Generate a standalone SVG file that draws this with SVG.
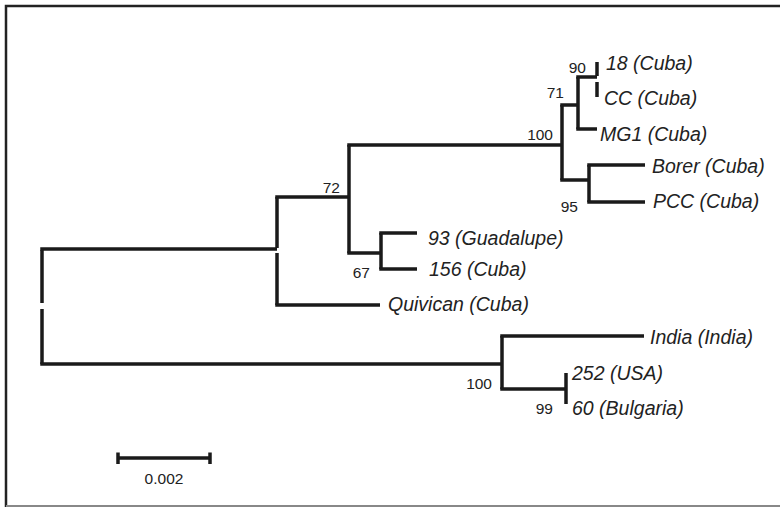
<svg xmlns="http://www.w3.org/2000/svg" width="780" height="507" viewBox="0 0 780 507">
<style>
.frame{fill:#fff;stroke:#222;stroke-width:2.5}
.bot{stroke:#888;stroke-width:2}
.br{fill:none;stroke:#1a1a1a;stroke-width:3.5;stroke-linecap:butt}
.leaf{font-family:"Liberation Sans",Arial,sans-serif;font-style:italic;font-size:19.5px;fill:#222}
.bs{font-family:"Liberation Sans",Arial,sans-serif;font-size:15.5px;fill:#222;text-anchor:end}
.sc{font-family:"Liberation Sans",Arial,sans-serif;font-size:15.5px;fill:#222;text-anchor:middle}
</style>
<rect class="frame" x="6" y="6" width="790" height="510"/>
<line class="bot" x1="6" y1="506" x2="780" y2="506"/>
<g id="connectors">
<path class="br" d="M42,250V303M42,309V364"/>
<path class="br" d="M40.25,249H277"/>
<path class="br" d="M277,197V248M277,253V305"/>
<path class="br" d="M275.25,197H349M275.25,305H380"/>
<path class="br" d="M349,145V253"/>
<path class="br" d="M347.25,145H562M347.25,253H381"/>
<path class="br" d="M381,233V269"/>
<path class="br" d="M379.25,233H417M379.25,269H417"/>
<path class="br" d="M562,105V180"/>
<path class="br" d="M560.25,105H578M560.25,180H589"/>
<path class="br" d="M578,77V129"/>
<path class="br" d="M576.25,77H597M576.25,129H597"/>
<path class="br" d="M597,62V76M597,82V97"/>
<path class="br" d="M589,165V202"/>
<path class="br" d="M587.25,165H645M587.25,202H645"/>
<path class="br" d="M40.25,364H502"/>
<path class="br" d="M502,336V389"/>
<path class="br" d="M500.25,336H644M500.25,389H566"/>
<path class="br" d="M566,373V404"/>
</g>
<g id="leaf-18"><text class="leaf" x="606" y="70">18 (Cuba)</text></g>
<g id="leaf-CC"><text class="leaf" x="604" y="105">CC (Cuba)</text></g>
<g id="leaf-MG1"><text class="leaf" x="600" y="141">MG1 (Cuba)</text></g>
<g id="leaf-Borer"><text class="leaf" x="652" y="173">Borer (Cuba)</text></g>
<g id="leaf-PCC"><text class="leaf" x="653" y="208">PCC (Cuba)</text></g>
<g id="leaf-93"><text class="leaf" x="428" y="245">93 (Guadalupe)</text></g>
<g id="leaf-156"><text class="leaf" x="429" y="276">156 (Cuba)</text></g>
<g id="leaf-Quivican"><text class="leaf" x="388" y="311">Quivican (Cuba)</text></g>
<g id="leaf-India"><text class="leaf" x="650" y="344">India (India)</text></g>
<g id="leaf-252"><text class="leaf" x="572" y="380">252 (USA)</text></g>
<g id="leaf-60"><text class="leaf" x="572" y="415">60 (Bulgaria)</text></g>
<g id="bootstrap">
<text class="bs" x="586" y="73">90</text>
<text class="bs" x="564" y="98">71</text>
<text class="bs" x="553" y="140">100</text>
<text class="bs" x="578" y="212">95</text>
<text class="bs" x="340" y="193">72</text>
<text class="bs" x="370" y="278">67</text>
<text class="bs" x="492" y="389">100</text>
<text class="bs" x="553" y="414">99</text>
</g>
<g id="scale-bar">
<path class="br" d="M118,458H210M118,452.5V464M210,452.5V464"/>
<text class="sc" x="164" y="484">0.002</text>
</g>
</svg>
